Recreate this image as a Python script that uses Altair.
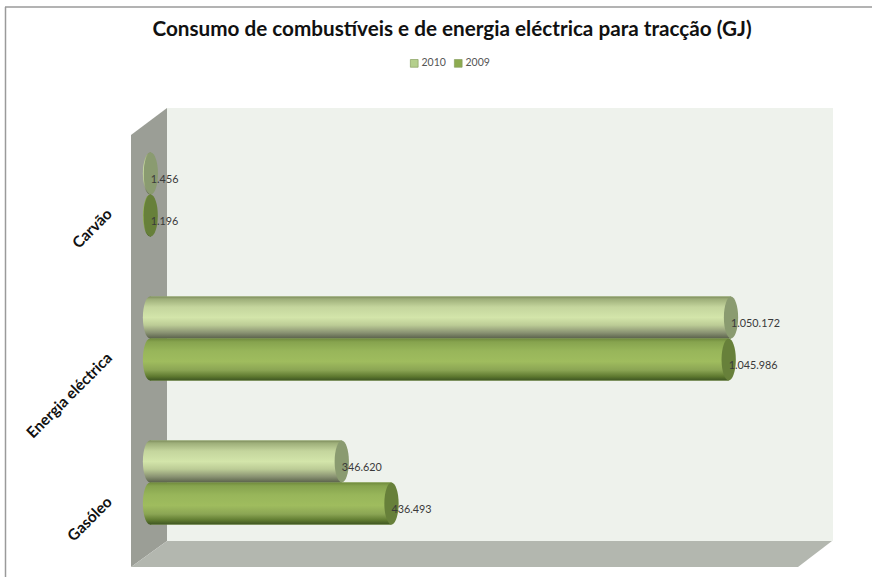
import altair as alt
import pandas as pd

# Fuel and electricity consumption for traction, in GJ
categories = ["Carvão", "Energia eléctrica", "Gasóleo"]
years = ["2010", "2009"]
values_2010 = [1456, 1050172, 346620]
values_2009 = [1196, 1045986, 436493]

TITLE = "Consumo de combustíveis e de energia eléctrica para tracção (GJ)"
FONT = "Lato"
W, H = 872, 577

rows = []
for year, series in zip(years, [values_2010, values_2009]):
    for cat, val in zip(categories, series):
        rows.append({"cat": cat, "year": year, "val": val, "base": 0,
                     "label": f"{val:,}".replace(",", ".")})
df = pd.DataFrame(rows)

# Pixels per GJ and the pixel column of the zero line
px_per_gj = 581 / 1050172
zero_px = 150
x_scale = alt.Scale(domain=[-zero_px / px_per_gj, (W - zero_px) / px_per_gj], nice=False, zero=False)
y_scale = alt.Scale(domain=categories, range=[122.5, 554.5], paddingInner=0, paddingOuter=0)
offset_scale = alt.Scale(domain=years, range=[30, 114], paddingInner=0, paddingOuter=0)

X = alt.X("val:Q", scale=x_scale, axis=None)
X_BASE = alt.X("base:Q", scale=x_scale, axis=None)
Y = alt.Y("cat:N", scale=y_scale, sort=categories, title=None,
          axis=alt.Axis(domain=False, ticks=False, grid=False, labelAngle=-45, labelFont=FONT,
                        labelFontSize=15.4, labelFontWeight="bold", labelColor="#111111",
                        labelAlign="right", labelBaseline="middle", labelPadding=0, offset=-109,
                        labelOffset=17, labelOverlap=False, labelBound=False))
YO = alt.YOffset("year:N", scale=offset_scale, sort=years)


def vgrad(stops):
    return alt.LinearGradient(
        gradient="linear", x1=0, y1=0, x2=0, y2=1,
        stops=[alt.GradientStop(offset=o, color=c) for o, c in stops])


body_fill = {
    "2010": vgrad([(0, "#7d8c5c"), (0.06, "#9dae79"), (0.25, "#c4d59d"), (0.5, "#d3e5aa"),
                   (0.68, "#bccc96"), (0.86, "#8a9373"), (1, "#5a614b")]),
    "2009": vgrad([(0, "#6f8a3c"), (0.08, "#86a34e"), (0.3, "#98b65a"), (0.55, "#9fbc5e"),
                   (0.75, "#8ba554"), (0.9, "#5f7a30"), (1, "#3e5522")]),
}
cap_fill = {"2010": "#8a9b70", "2009": "#67803a"}
legend_fill = ["#b4cf8c", "#8dab50"]

# Upright ellipse, unit height, used for both ends of each cylinder
ELLIPSE = ("M0,-1 C0.184,-1 0.34,-0.552 0.34,0 C0.34,0.552 0.184,1 0,1 "
           "C-0.184,1 -0.34,0.552 -0.34,0 C-0.34,-0.552 -0.184,-1 0,-1 Z")
ELLIPSE_SIZE = 1764

# Chart box: back wall, side wall and floor
back_wall = alt.Chart(alt.Data(values=[{}])).mark_rect(color="#eef2ec").encode(
    x=alt.value(167), x2=alt.value(833), y=alt.value(108), y2=alt.value(541))
side_wall = alt.Chart(pd.DataFrame({"px": [131, 167], "top": [135, 108], "bottom": [567, 541]})).mark_area(
    color="#9b9e96", opacity=1).encode(
    x=alt.X("px:Q", scale=None), y=alt.Y("top:Q", scale=None), y2=alt.Y2("bottom:Q"))
floor = alt.Chart(pd.DataFrame({"px": [131, 167, 798, 832], "top": [567, 541, 541, 541],
                                "bottom": [567, 567, 567, 541]})).mark_area(
    color="#b3b7af", opacity=1).encode(
    x=alt.X("px:Q", scale=None), y=alt.Y("top:Q", scale=None), y2=alt.Y2("bottom:Q"))

# Slide frame, top and left edges
frame_top = alt.Chart(alt.Data(values=[{}])).mark_rule(color="#9a9a9a", strokeWidth=1.5).encode(
    x=alt.value(5), x2=alt.value(W), y=alt.value(7))
frame_left = alt.Chart(alt.Data(values=[{}])).mark_rule(color="#9a9a9a", strokeWidth=1.5).encode(
    x=alt.value(5.5), y=alt.value(7), y2=alt.value(H))

# Flat bars carry the legend colours
flat = alt.Chart(df).mark_bar().encode(
    x=X, x2=alt.X2("base:Q"), y=Y, yOffset=YO,
    color=alt.Color("year:N", sort=years, scale=alt.Scale(domain=years, range=legend_fill),
                    legend=alt.Legend(orient="none", legendX=409, legendY=58, direction="horizontal",
                                      title=None, symbolType="square", symbolSize=60,
                                      symbolStrokeColor="#88a060", symbolStrokeWidth=0.7,
                                      labelFont=FONT, labelFontSize=10.5, labelColor="#555555",
                                      columnPadding=6, labelOffset=2)))

layers = [back_wall, side_wall, floor, frame_top, frame_left, flat]
for year in years:
    sub = alt.Chart(df).transform_filter(alt.datum.year == year)
    layers.append(sub.mark_point(shape=ELLIPSE, size=ELLIPSE_SIZE, filled=True, opacity=1,
                                 fill=body_fill[year]).encode(x=X_BASE, y=Y, yOffset=YO))
    layers.append(sub.mark_bar(fill=body_fill[year]).encode(
        x=X, x2=alt.X2("base:Q"), y=Y, yOffset=YO))
    layers.append(sub.mark_point(shape=ELLIPSE, size=ELLIPSE_SIZE, filled=True, opacity=1,
                                 fill=cap_fill[year]).encode(x=X, y=Y, yOffset=YO))

# Value labels start at the centre of each cap
value_labels = alt.Chart(df).mark_text(align="left", baseline="middle", dy=6.5, font=FONT,
                                       fontSize=10.8, color="#3a3a3a").encode(
    x=X, y=Y, yOffset=YO, text="label:N")
layers.append(value_labels)

title = alt.Chart(alt.Data(values=[{}])).mark_text(
    font=FONT, fontSize=20.7, fontWeight="bold", color="#111111", align="center", baseline="middle").encode(
    x=alt.value(452), y=alt.value(30), text=alt.value(TITLE))
layers.append(title)

chart = alt.layer(*layers).properties(
    width=W, height=H, padding=0, autosize=alt.AutoSizeParams(type="none"), background="white"
).resolve_scale(color="independent").configure_view(stroke=None)

chart.save("out.html", embed_options={"renderer": "svg", "actions": False})
